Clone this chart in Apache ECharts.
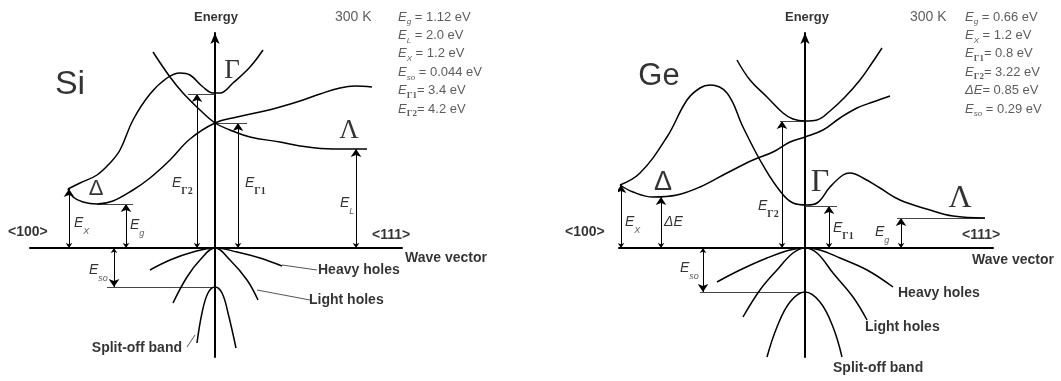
<!DOCTYPE html>
<html>
<head>
<meta charset="utf-8">
<script src="https://cdn.jsdelivr.net/npm/echarts@6/dist/echarts.min.js"></script>
<style>
html, body { margin: 0; padding: 0; background: #fff; }
#main { width: 1061px; height: 381px; }
</style>
</head>
<body>
<div id="main"></div>
<script>
// band diagrams, [k, E] in diagram units (k = wave vector, E = energy, 0 = valence band top)

// ---- Si ----
var siHump = [[-147,59],[-135,65],[-118,73],[-105,85],[-95,98],[-82,128],[-65,154],[-48,170],[-35,175],[-25,173],[-12,161],[-2,155],[5,155],[18,165],[35,181],[48,198]];
var siDelta = [[-147,59],[-142,51],[-132,46],[-118,44],[-102,47],[-82,58],[-65,70],[-45,88],[-25,109],[0,125],[22,131],[45,136],[65,141],[85,147],[105,154],[125,160],[140,162],[157,161]];
var siLambda = [[-62,196],[-45,171],[-32,155],[-15,138],[0,125],[15,118],[35,111],[65,106],[85,102],[118,99],[152,99]];
var siHeavy = [[-65,-22],[-45,-12],[-22,-4],[0,0],[22,-4],[45,-10],[67,-18]];
var siLight = [[-42,-55],[-28,-29],[-15,-12],[0,0],[15,-12],[32,-32],[43,-52]];
var siSplit = [[-18,-95],[-13,-65],[-7,-45],[0,-39],[7,-45],[13,-65],[21,-100]];
// double arrows from E = 0 up to a level: [k, E]
var siArrows = [[-146,59],[-89,44],[-18,154],[23,125],[141,99],[-101,-39]];
// level marks: [k1, k2, E]
var siLevels = [[-118,-82,44],[-27,0,154],[0,32,125],[-108,0,-39]];
// leader lines: [k1, E1, k2, E2]
var siLeaders = [[67,-17,102,-22],[42,-42,95,-52],[-20,-87,-28,-99]];
var siParams = ['{e|E}{s|g} = 1.12 eV', '{e|E}{s|L} = 2.0 eV', '{e|E}{s|X} = 1.2 eV', '{e|E}{s|so} = 0.044 eV', '{e|E}{g|Γ1}= 3.4 eV', '{e|E}{g|Γ2}= 4.2 eV'];
var siSymbolLabels = [[-141,25,'{e|E}{s|X}'],[-85,23,'{e|E}{s|g}'],[-43,65,'{e|E}{g|Γ2}'],[30,65,'{e|E}{g|Γ1}'],[125,45,'{e|E}{s|L}'],[-126,-22,'{e|E}{s|so}']];
var siSerif = [[17,177,'Γ'],[134,117,'Λ']];
var siSans = [[-119,59,'Δ']];
var siBoldLeft = [[-207,16,'<100>'],[157,13,'<111>'],[190,-10,'Wave vector'],[103,-22,'Heavy holes'],[94,-52,'Light holes']];
var siBoldRight = [[-33,-100,'Split-off band']];

// ---- Ge ----
var geMain = [[-185,63],[-165,75],[-138,111],[-118,148],[-105,160],[-95,163],[-78,155],[-62,121],[-45,88],[-28,61],[-12,45],[2,43],[12,45],[25,61],[38,73],[45,75],[58,70],[75,60],[95,48],[125,38],[148,32],[180,30]];
var geDelta = [[-185,63],[-172,56],[-152,51],[-128,53],[-105,61],[-78,75],[-52,88],[-32,96],[-15,106],[0,111],[18,118],[35,130],[52,140],[68,146],[85,152]];
var geGamma2 = [[-68,188],[-55,168],[-38,151],[-22,135],[-12,129],[0,127],[12,128],[25,137],[40,151],[55,168],[67,185],[77,200]];
var geHeavy = [[-88,-34],[-65,-22],[-38,-10],[-15,-2],[0,0],[15,-2],[35,-10],[62,-22],[88,-39]];
var geLight = [[-62,-69],[-45,-42],[-28,-22],[-12,-5],[0,0],[12,-5],[28,-25],[48,-49],[62,-72]];
var geSplit = [[-38,-109],[-28,-79],[-15,-54],[0,-44],[15,-54],[28,-79],[37,-109]];
var geArrows = [[-184,63],[-144,51],[-23,127],[24,42],[96,30],[-102,-44]];
var geLevels = [[-25,0,127],[0,32,42],[92,180,30],[-105,0,-44]];
var geParams = ['{e|E}{s|g} = 0.66 eV', '{e|E}{s|X} = 1.2 eV', '{e|E}{g|Γ1}= 0.8 eV', '{e|E}{g|Γ2}= 3.22 eV', '{e|ΔE}= 0.85 eV', '{e|E}{s|so} = 0.29 eV'];
var geSymbolLabels = [[-180,26,'{e|E}{s|X}'],[-141,26,'{e|ΔE}'],[-47,42,'{e|E}{g|Γ2}'],[28,20,'{e|E}{g|Γ1}'],[70,16,'{e|E}{s|g}'],[-125,-20,'{e|E}{s|so}']];
var geSerif = [[15,65,'Γ'],[155,49,'Λ']];
var geSans = [[-142,65,'Δ']];
var geBoldLeft = [[-240,16,'<100>'],[157,13,'<111>'],[167,-12,'Wave vector'],[93,-45,'Heavy holes'],[60,-79,'Light holes'],[28,-120,'Split-off band']];

var SANS = 'Liberation Sans, Arial, sans-serif';
var SERIF = 'Liberation Serif, Times New Roman, serif';

var richE = {
    e: { fontFamily: SANS, fontStyle: 'italic', fontSize: 14, lineHeight: 26, color: '#000' },
    s: { fontFamily: SANS, fontStyle: 'italic', fontSize: 9, lineHeight: 10, verticalAlign: 'bottom', color: '#333' },
    g: { fontFamily: SERIF, fontWeight: 'bold', fontSize: 10, lineHeight: 10, verticalAlign: 'bottom', color: '#000' }
};
var richP = {
    e: { fontFamily: SANS, fontStyle: 'italic', fontSize: 13, lineHeight: 18.4, color: '#333' },
    s: { fontFamily: SANS, fontStyle: 'italic', fontSize: 8, lineHeight: 8, verticalAlign: 'bottom', color: '#333' },
    g: { fontFamily: SERIF, fontWeight: 'bold', fontSize: 9, lineHeight: 8, verticalAlign: 'bottom', color: '#333' }
};

function curve(data, gi) {
    return {
        type: 'line', xAxisIndex: gi, yAxisIndex: gi, data: data,
        smooth: 0.4, symbol: 'none', clip: false, silent: true,
        lineStyle: { color: '#000', width: 1.5 }
    };
}

function arrows(list, gi) {
    return {
        type: 'lines', coordinateSystem: 'cartesian2d', xAxisIndex: gi, yAxisIndex: gi,
        symbol: ['arrow', 'arrow'], symbolSize: [5, 8], silent: true,
        lineStyle: { color: '#000', width: 1, opacity: 1, curveness: 0 },
        data: list.map(function (p) { return { coords: [[p[0], 0], [p[0], p[1]]] }; })
    };
}

function segs(list, gi, color) {
    return {
        type: 'lines', coordinateSystem: 'cartesian2d', xAxisIndex: gi, yAxisIndex: gi,
        symbol: ['none', 'none'], silent: true,
        lineStyle: { color: color, width: 1, opacity: 1, curveness: 0 },
        data: list.map(function (p) {
            return p.length === 3 ? { coords: [[p[0], p[2]], [p[1], p[2]]] }
                                  : { coords: [[p[0], p[1]], [p[2], p[3]]] };
        })
    };
}

function texts(list, gi, pos, style) {
    return {
        type: 'scatter', xAxisIndex: gi, yAxisIndex: gi, symbolSize: 0, clip: false, silent: true,
        data: list.map(function (p) { return { value: [p[0], p[1]], name: p[2] }; }),
        label: Object.assign({ show: true, position: pos, distance: 0, formatter: '{b}' }, style)
    };
}

function panel(gi, d) {
    var out = [];
    d.curves.forEach(function (c) { out.push(curve(c, gi)); });
    out.push(arrows(d.arrows, gi));
    out.push(segs(d.levels, gi, '#444'));
    if (d.leaders) out.push(segs(d.leaders, gi, '#555'));
    out.push(texts(d.symbolLabels, gi, 'right', { rich: richE }));
    out.push(texts(d.serif, gi, 'inside', { fontFamily: SERIF, fontSize: d.greekSize, color: '#000' }));
    out.push(texts(d.sans, gi, 'inside', { fontFamily: SANS, fontSize: d.deltaSize, color: '#000' }));
    out.push(texts(d.boldLeft, gi, 'right', { fontFamily: SANS, fontWeight: 'bold', fontSize: 14, color: '#000' }));
    if (d.boldRight) out.push(texts(d.boldRight, gi, 'left', { fontFamily: SANS, fontWeight: 'bold', fontSize: 14, color: '#000' }));
    out.push(texts([[d.nameAt[0], d.nameAt[1], d.name]], gi, 'inside', { fontFamily: SANS, fontSize: d.nameSize, color: '#000' }));
    out.push(texts([[d.energyK, 231, 'Energy']], gi, 'inside', { fontFamily: SANS, fontWeight: 'bold', fontSize: 13, color: '#000' }));
    out.push(texts([[d.tempK, 231, '300 K']], gi, 'right', { fontFamily: SANS, fontSize: 14, color: '#333' }));
    out.push(texts([[d.paramsK, 185, d.params.join('\n')]], gi, 'right', { fontFamily: SANS, fontSize: 13, lineHeight: 18.4, color: '#333', rich: richP }));
    return out;
}

var series = [].concat(
    panel(0, {
        curves: [siHump, siDelta, siLambda, siHeavy, siLight, siSplit],
        arrows: siArrows, levels: siLevels, leaders: siLeaders,
        symbolLabels: siSymbolLabels, serif: siSerif, sans: siSans,
        boldLeft: siBoldLeft, boldRight: siBoldRight,
        greekSize: 27, deltaSize: 22,
        name: 'Si', nameAt: [-145, 163], nameSize: 34,
        energyK: 1, tempK: 120, paramsK: 183, params: siParams
    }),
    panel(1, {
        curves: [geMain, geDelta, geGamma2, geHeavy, geLight, geSplit],
        arrows: geArrows, levels: geLevels,
        symbolLabels: geSymbolLabels, serif: geSerif, sans: geSans,
        boldLeft: geBoldLeft,
        greekSize: 32, deltaSize: 27,
        name: 'Ge', nameAt: [-146, 172], nameSize: 31,
        energyK: 2, tempK: 105, paramsK: 160, params: geParams
    })
);

function xAx(gi, min, max) {
    return {
        type: 'value', gridIndex: gi, min: min, max: max,
        axisLine: { show: true, onZero: true, lineStyle: { color: '#000', width: 2 } },
        axisTick: { show: false }, axisLabel: { show: false }, splitLine: { show: false }
    };
}
function yAx(gi) {
    return {
        type: 'value', gridIndex: gi, min: -109, max: 215,
        axisLine: { show: true, onZero: true, symbol: ['none', 'arrow'], symbolSize: [7, 11],
                    lineStyle: { color: '#000', width: 2 } },
        axisTick: { show: false }, axisLabel: { show: false }, splitLine: { show: false }
    };
}

var chart = echarts.init(document.getElementById('main'));
chart.setOption({
    animation: false,
    backgroundColor: '#fff',
    grid: [
        { left: 30, width: 372, top: 33, height: 324 },
        { left: 619, width: 374, top: 33, height: 324 }
    ],
    xAxis: [xAx(0, -185, 187), xAx(1, -186, 188)],
    yAxis: [yAx(0), yAx(1)],
    series: series
});
</script>
</body>
</html>
